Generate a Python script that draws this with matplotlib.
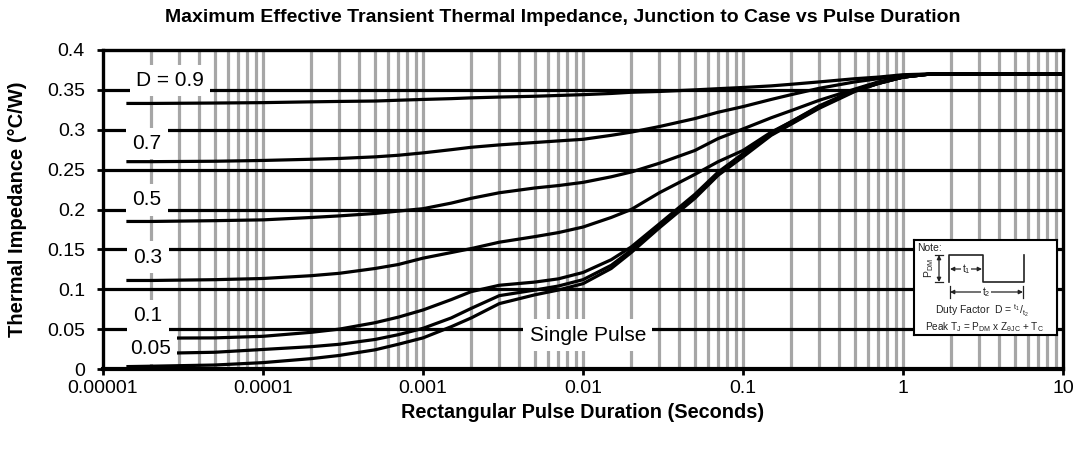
import matplotlib
matplotlib.use("Agg")
import matplotlib.pyplot as plt

plt.rcParams['font.family'] = ['Liberation Sans', 'DejaVu Sans']
plt.rcParams['mathtext.fontset'] = 'custom'
plt.rcParams['mathtext.rm'] = 'Liberation Sans'
plt.rcParams['mathtext.it'] = 'Liberation Sans'

# ---------------- data ----------------
t_common = [1.4e-5, 2e-5, 5e-5, 1e-4, 2e-4, 3e-4, 5e-4, 7e-4, 1e-3, 1.5e-3, 2e-3, 3e-3,
            5e-3, 7e-3, 1e-2, 1.5e-2, 2e-2, 3e-2, 5e-2, 7e-2, 0.1, 0.15, 0.2, 0.3,
            0.5, 0.7, 1.0, 1.5, 2.0, 5.0, 10.0]

z_single = [0.003, 0.0035, 0.005, 0.008, 0.013, 0.017, 0.024, 0.031, 0.039, 0.053, 0.064, 0.082,
            0.093, 0.099, 0.107, 0.126, 0.146, 0.177, 0.214, 0.243, 0.266, 0.293, 0.307, 0.327,
            0.348, 0.358, 0.366, 0.370, 0.370, 0.370, 0.370]
z_d005 = [0.019, 0.0195, 0.021, 0.0245, 0.028, 0.031, 0.037, 0.043, 0.051, 0.064, 0.076, 0.092,
          0.099, 0.104, 0.112, 0.130, 0.149, 0.179, 0.216, 0.244, 0.268, 0.294, 0.308, 0.328,
          0.349, 0.358, 0.366, 0.370, 0.370, 0.370, 0.370]
z_d01 = [0.0385, 0.0387, 0.039, 0.041, 0.046, 0.050, 0.058, 0.065, 0.074, 0.087, 0.097, 0.105,
         0.109, 0.113, 0.121, 0.137, 0.153, 0.182, 0.219, 0.247, 0.270, 0.296, 0.310, 0.330,
         0.350, 0.359, 0.366, 0.370, 0.370, 0.370, 0.370]
z_d03 = [0.111, 0.111, 0.112, 0.1135, 0.117, 0.120, 0.126, 0.131, 0.139, 0.146, 0.151, 0.159,
         0.166, 0.171, 0.178, 0.190, 0.200, 0.221, 0.244, 0.260, 0.274, 0.297, 0.310, 0.329,
         0.349, 0.358, 0.366, 0.370, 0.370, 0.370, 0.370]
z_d05 = [0.185, 0.185, 0.186, 0.187, 0.190, 0.192, 0.195, 0.198, 0.201, 0.208, 0.214, 0.221,
         0.227, 0.230, 0.234, 0.241, 0.247, 0.258, 0.274, 0.289, 0.301, 0.315, 0.324, 0.337,
         0.351, 0.360, 0.366, 0.370, 0.370, 0.370, 0.370]
z_d07 = [0.260, 0.260, 0.2605, 0.2615, 0.263, 0.264, 0.266, 0.268, 0.271, 0.275, 0.278, 0.281,
         0.284, 0.286, 0.288, 0.293, 0.297, 0.304, 0.314, 0.322, 0.329, 0.338, 0.344, 0.352,
         0.360, 0.364, 0.368, 0.370, 0.370, 0.370, 0.370]
z_d09 = [0.333, 0.333, 0.3335, 0.334, 0.335, 0.3355, 0.336, 0.337, 0.338, 0.339, 0.340, 0.341,
         0.342, 0.343, 0.344, 0.3455, 0.347, 0.348, 0.350, 0.3515, 0.353, 0.355, 0.357, 0.360,
         0.364, 0.366, 0.369, 0.370, 0.370, 0.370, 0.370]

series = [z_d09, z_d07, z_d05, z_d03, z_d01, z_d005, z_single]

x_ticks = [1e-5, 1e-4, 1e-3, 1e-2, 1e-1, 1, 10]
x_tick_labels = ["0.00001", "0.0001", "0.001", "0.01", "0.1", "1", "10"]
y_ticks = [0, 0.05, 0.1, 0.15, 0.2, 0.25, 0.3, 0.35, 0.4]
y_tick_labels = ["0", "0.05", "0.1", "0.15", "0.2", "0.25", "0.3", "0.35", "0.4"]

curve_labels = ["D = 0.9", "0.7", "0.5", "0.3", "0.1", "0.05", "Single Pulse"]
label_pos = [(2.62e-5, 0.362), (1.88e-5, 0.283), (1.88e-5, 0.212), (1.91e-5, 0.1404),
             (1.91e-5, 0.0665), (1.97e-5, 0.0263), (1.07e-2, 0.0426)]

# ---------------- figure ----------------
W, H = 1083, 449
fig = plt.figure(figsize=(W / 100, H / 100), dpi=100)
ax = fig.add_axes([103 / W, 80 / H, 960 / W, 319 / H])
ax.set_xscale('log')
ax.set_xlim(1e-5, 10)
ax.set_ylim(0, 0.4)

# vertical grey grid at 1..9 of every decade
for e in range(-5, 1):
    for m in range(1, 10):
        xv = m * 10.0 ** e
        if 1e-5 < xv < 10:
            ax.axvline(xv, color='#a6a6a6', lw=2.3, zorder=1)
# horizontal black grid
for yv in y_ticks[1:-1]:
    ax.axhline(yv, color='black', lw=2.3, zorder=2)

for z in series:
    ax.plot(t_common, z, color='black', lw=2.3, zorder=3, solid_capstyle='butt')

for txt, (xx, yy) in zip(curve_labels, label_pos):
    ax.text(xx, yy, txt, fontsize=15, ha='center', va='center', zorder=5,
            bbox=dict(facecolor='white', edgecolor='none', boxstyle='square,pad=0.3'))

ax.xaxis.set_major_locator(plt.FixedLocator(x_ticks))
ax.xaxis.set_major_formatter(plt.FixedFormatter(x_tick_labels))
ax.xaxis.set_minor_locator(plt.NullLocator())
ax.set_yticks(y_ticks)
ax.set_yticklabels(y_tick_labels)
ax.tick_params(axis='both', which='major', labelsize=14, length=4, width=2, direction='out', color='black')
ax.tick_params(axis='x', pad=4)
ax.tick_params(axis='y', pad=9)

for sp in ax.spines.values():
    sp.set_linewidth(2.4)
    sp.set_color('black')
    sp.set_zorder(6)
ax.spines['bottom'].set_linewidth(3)

ax.set_xlabel("Rectangular Pulse Duration (Seconds)", fontsize=14.3, fontweight='bold', labelpad=4)
ax.set_ylabel("Thermal Impedance (\u00b0C/W)", fontsize=14.5, fontweight='bold')
ax.yaxis.set_label_coords((27 - 103) / 960, 0.5)
fig.text(563 / W, 1 - 17 / H, "Maximum Effective Transient Thermal Impedance, Junction to Case vs Pulse Duration",
         fontsize=14, fontweight='bold', ha='center', va='center')

# ---------------- note box ----------------
nx0, ny0, nw, nh = 914, 240, 143, 95
nax = fig.add_axes([nx0 / W, (H - ny0 - nh) / H, nw / W, nh / H], zorder=10)
nax.set_xlim(0, nw)
nax.set_ylim(nh, 0)
nax.set_xticks([])
nax.set_yticks([])
nax.set_facecolor('white')
for sp in nax.spines.values():
    sp.set_linewidth(1.5)
    sp.set_color('black')
ink = '#222222'
nax.text(3, 3, "Note:", fontsize=7.5, ha='left', va='top', color=ink)
nax.plot([35, 35, 69, 69, 110, 110], [42, 15, 15, 42, 42, 15], color=ink, lw=1.2)
nax.annotate("", xy=(25, 15), xytext=(25, 42),
             arrowprops=dict(arrowstyle='<|-|>', color=ink, lw=0.9, mutation_scale=6, shrinkA=0, shrinkB=0))
nax.plot([21, 29], [15, 15], color=ink, lw=0.9)
nax.plot([21, 29], [42, 42], color=ink, lw=0.9)
nax.text(15, 28, r"$\mathregular{P_{DM}}$", fontsize=7.5, rotation=90, ha='center', va='center', color=ink)
nax.annotate("", xy=(36, 29), xytext=(68, 29),
             arrowprops=dict(arrowstyle='<|-|>', color=ink, lw=0.9, mutation_scale=6, shrinkA=0, shrinkB=0))
nax.text(52, 29, r"$\mathregular{t_1}$", fontsize=7.5, ha='center', va='center', color=ink,
         bbox=dict(facecolor='white', edgecolor='none', pad=0.5))
nax.annotate("", xy=(36, 52), xytext=(109, 52),
             arrowprops=dict(arrowstyle='<|-|>', color=ink, lw=0.9, mutation_scale=6, shrinkA=0, shrinkB=0))
nax.plot([36, 36], [46, 58], color=ink, lw=0.9)
nax.plot([109, 109], [46, 58], color=ink, lw=0.9)
nax.text(72, 52, r"$\mathregular{t_2}$", fontsize=7.5, ha='center', va='center', color=ink,
         bbox=dict(facecolor='white', edgecolor='none', pad=0.5))
nax.text(68, 71, r"Duty Factor  D = $\mathregular{^{t_1}/_{t_2}}$", fontsize=7.5, ha='center', va='center', color=ink)
nax.text(70, 87, r"Peak T$\mathregular{_J}$ = P$\mathregular{_{DM}}$ x Z$\mathregular{_{\theta JC}}$ + T$\mathregular{_C}$",
         fontsize=7.2, ha='center', va='center', color=ink)

fig.savefig("out.png", dpi=100, facecolor='white')
